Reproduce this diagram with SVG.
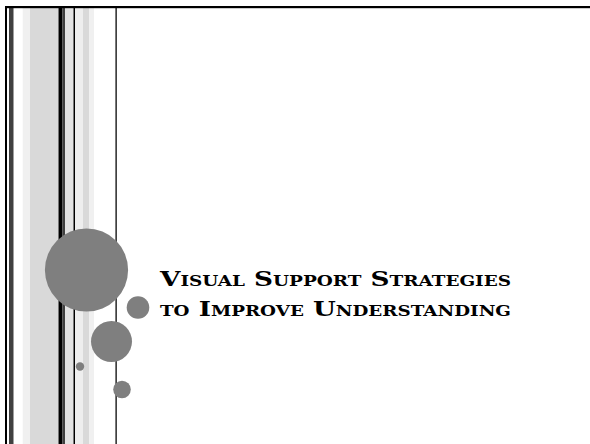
<svg xmlns="http://www.w3.org/2000/svg" width="590" height="444" viewBox="0 0 590 444">
<style>
.dot{fill:#7f7f7f}
.title{font-family:"DejaVu Serif","Liberation Serif",serif;font-weight:bold;font-size:20px;font-variant:small-caps;fill:#000}
</style>
<rect width="590" height="444" fill="#fff"/>
<g id="stripes">
<rect x="5" y="6" width="2" height="438" fill="#000"/>
<rect x="9" y="6" width="4.5" height="438" fill="#404040"/>
<rect x="22.7" y="8" width="7.3" height="436" fill="#f0f0f0"/>
<rect x="30" y="8" width="28.5" height="436" fill="#d9d9d9"/>
<rect x="58.5" y="6" width="4" height="438" fill="#000"/>
<rect x="62.5" y="6" width="2.5" height="438" fill="#404040"/>
<rect x="65" y="8" width="8.5" height="436" fill="#e3e3e3"/>
<rect x="73.5" y="6" width="1.5" height="438" fill="#000"/>
<rect x="75" y="8" width="8" height="436" fill="#eeeeee"/>
<rect x="83" y="8" width="6" height="436" fill="#d9d9d9"/>
<rect x="89" y="8" width="5" height="436" fill="#f0f0f0"/>
<rect x="115.3" y="6" width="1.7" height="438" fill="#404040"/>
<rect x="5" y="6" width="585" height="2.2" fill="#000"/>
</g>
<g id="circles">
<circle class="dot" cx="86.5" cy="270" r="41.6"/>
<circle class="dot" cx="138" cy="307.5" r="11.3"/>
<circle class="dot" cx="111.5" cy="341.5" r="20.5"/>
<circle class="dot" cx="80" cy="366.5" r="4.2"/>
<circle class="dot" cx="122" cy="389.5" r="8.8"/>
</g>
<g id="title">
<text class="title" x="160" y="286" textLength="351" lengthAdjust="spacingAndGlyphs">Visual Support Strategies</text>
<text class="title" x="160" y="316" textLength="351" lengthAdjust="spacingAndGlyphs">to Improve Understanding</text>
</g>
</svg>
